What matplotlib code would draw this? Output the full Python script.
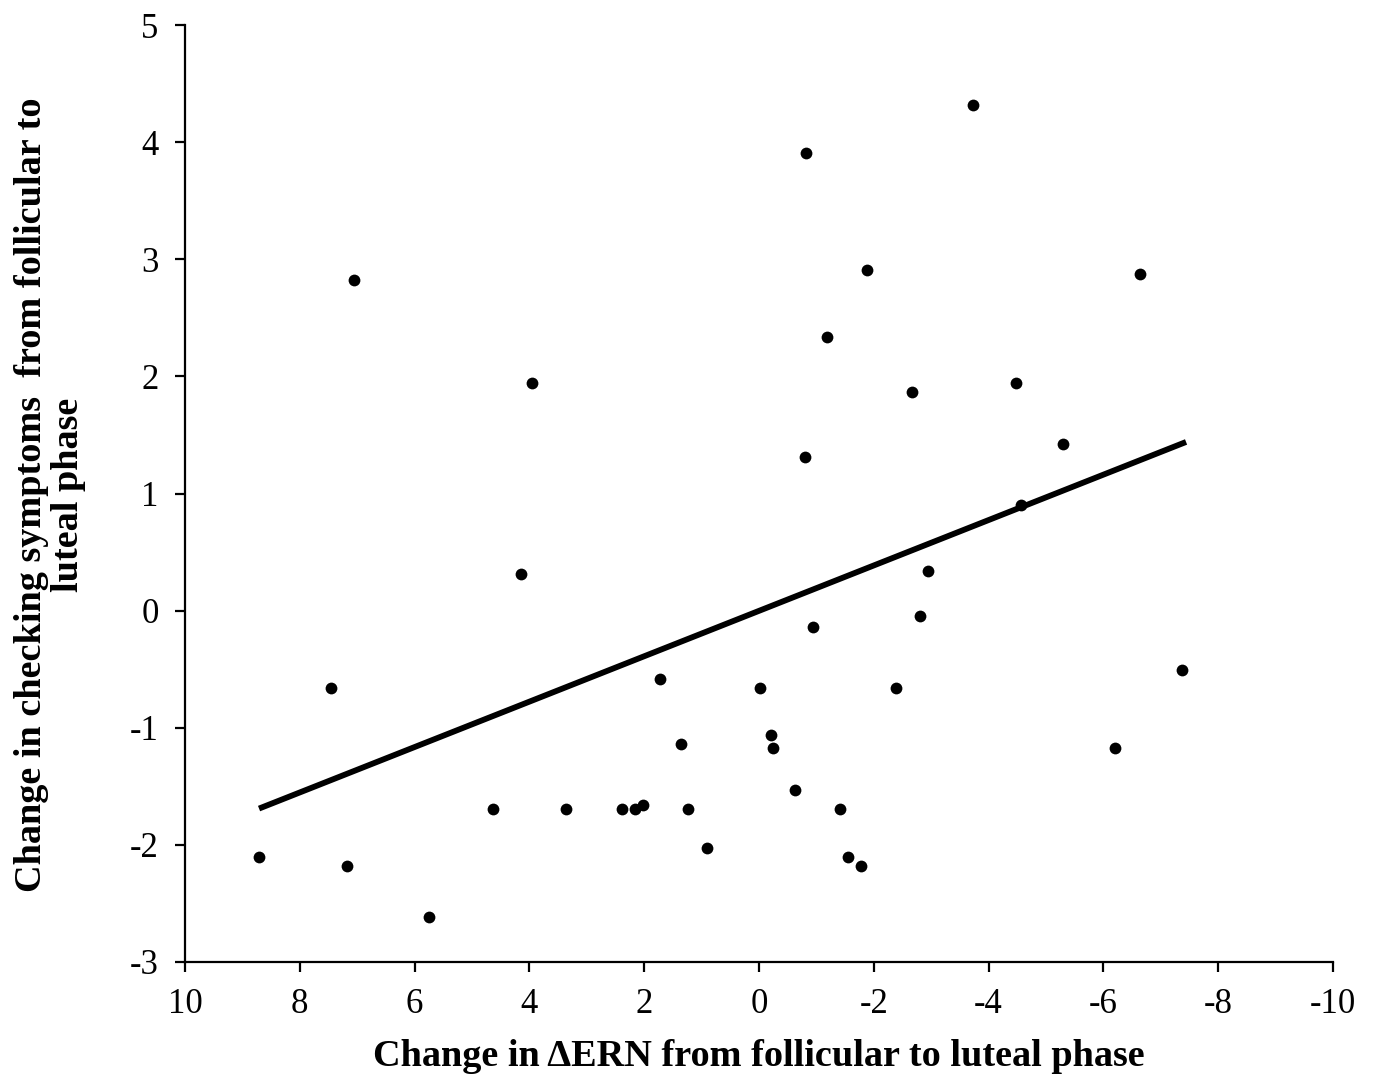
import matplotlib
matplotlib.use("Agg")
import matplotlib.pyplot as plt
import numpy as np

# Data (change in ΔERN, change in checking symptoms)
erm_change = [8.71, 7.06, 7.46, 7.18, 5.75, 3.95, 4.15, 4.63, 3.36, 2.39,
              2.16, 2.02, 1.72, 1.36, 1.24, 0.91, -0.02, -0.21, -0.24, -0.63,
              -0.82, -0.80, -0.94, -1.18, -1.41, -1.55, -1.78, -1.88, -2.39, -2.67,
              -2.80, -2.94, -3.73, -4.48, -4.56, -5.30, -6.20, -6.64, -7.37]
checking_change = [-2.10, 2.82, -0.66, -2.18, -2.62, 1.94, 0.31, -1.69, -1.69, -1.69,
                   -1.69, -1.66, -0.58, -1.14, -1.69, -2.03, -0.66, -1.06, -1.17, -1.53,
                   3.91, 1.31, -0.14, 2.34, -1.69, -2.10, -2.18, 2.91, -0.66, 1.87,
                   -0.05, 0.34, 4.32, 1.94, 0.90, 1.42, -1.17, 2.87, -0.51]

# Trend line endpoints
trend_x = [8.71, -7.44]
trend_y = [-1.69, 1.44]

x_ticks = [10, 8, 6, 4, 2, 0, -2, -4, -6, -8, -10]
y_ticks = [-3, -2, -1, 0, 1, 2, 3, 4, 5]

plt.rcParams['font.family'] = ['Liberation Serif', 'DejaVu Serif']

fig = plt.figure(figsize=(13.74, 10.81), dpi=100)
ax = fig.add_axes([185/1374, 1 - 962/1081, (1333-185)/1374, (962-25)/1081])

ax.scatter(erm_change, checking_change, s=72, color='black', zorder=3, linewidths=0)
ax.plot(trend_x, trend_y, color='black', lw=4.2, solid_capstyle='butt', zorder=2)

ax.set_xlim(10, -10)
ax.set_ylim(-3, 5)
ax.set_xticks(x_ticks)
ax.set_yticks(y_ticks)
ax.set_xticklabels([str(v) for v in x_ticks])
ax.set_yticklabels([str(v) for v in y_ticks])

for s in ['top', 'right']:
    ax.spines[s].set_visible(False)
for s in ['left', 'bottom']:
    ax.spines[s].set_linewidth(1.6)
    ax.spines[s].set_color('black')

ax.tick_params(axis='both', direction='out', length=7, width=1.6, labelsize=25, colors='black')
ax.tick_params(axis='x', pad=12)
ax.tick_params(axis='y', pad=12)

ax.set_xlabel('Change in \u0394ERN from follicular to luteal phase', fontsize=27.5,
              fontweight='bold', va='center')
ax.xaxis.set_label_coords(0.5, (962 - 1057) / 937)
ax.set_ylabel('Change in checking symptoms  from follicular to\nluteal phase', fontsize=27.5,
              fontweight='bold', linespacing=1.05, va='center')
ax.yaxis.set_label_coords((50 - 185) / 1148, (962 - 495) / 937)

fig.savefig('out.png', dpi=100, facecolor='white')
